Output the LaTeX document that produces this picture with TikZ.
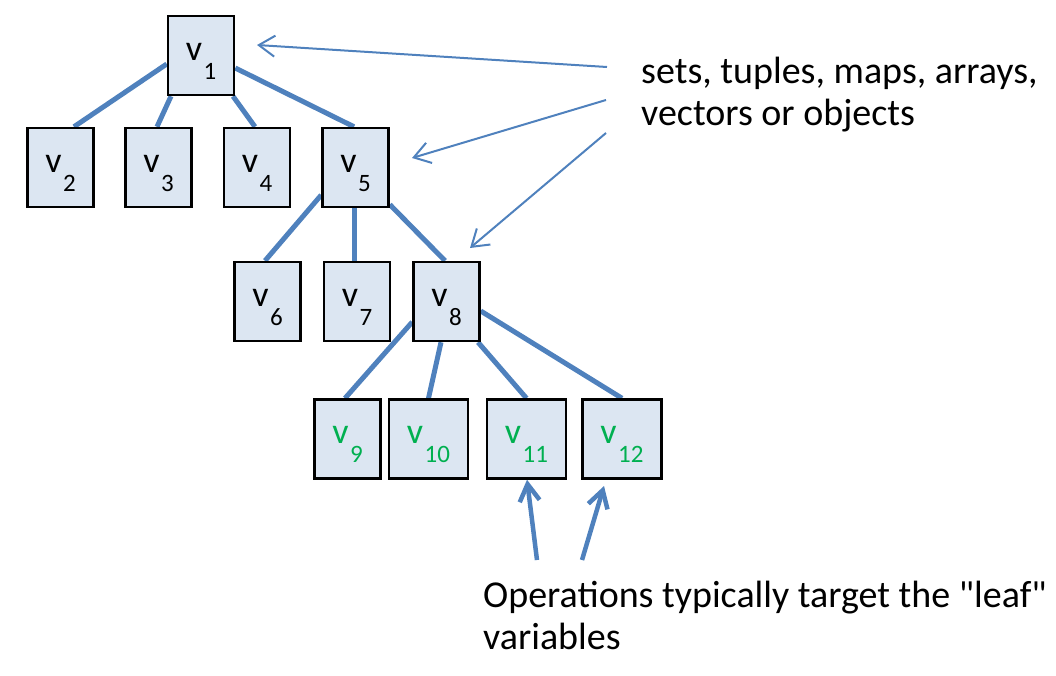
\documentclass[tikz,border=0pt]{standalone}
\usepackage{fontspec}
\setmainfont{Carlito}[Ligatures=TeXOff]
\usetikzlibrary{arrows.meta,backgrounds}
\definecolor{edgeblue}{HTML}{4F81BD}
\definecolor{boxfill}{HTML}{DCE6F2}
\definecolor{leafgreen}{HTML}{00B050}
\newcommand{\vlab}[1]{{\fontsize{36}{36}\selectfont v}\hspace{1.5pt}\raisebox{-19pt}{\fontsize{25}{25}\selectfont #1}}
\begin{document}
\begin{tikzpicture}[x=1pt,y=-1pt,
  varbox/.style={draw=black, line width=2.5pt, fill=boxfill, minimum width=66pt, minimum height=79pt, inner sep=0pt, text height=28pt, text depth=19pt},
  widebox/.style={varbox, minimum width=79pt},
  leafbox/.style={text=leafgreen},
  treeedge/.style={draw=edgeblue, line width=5pt},
  notearrow/.style={draw=edgeblue, line width=2pt, -{Straight Barb[length=16pt,width=21pt]}},
  leafarrow/.style={draw=edgeblue, line width=4.5pt, -{Straight Barb[length=17pt,width=20pt]}},
  note/.style={font=\fontsize{38}{42}\selectfont, align=left, inner sep=0pt, anchor=base west}
]
\useasboundingbox (0,0) rectangle (1056,675);

% boxes
\node[varbox] (v1) at (201,55.5) {\vlab{1}};
\node[varbox] (v2) at (60.5,167.5) {\vlab{2}};
\node[varbox] (v3) at (158.5,167.5) {\vlab{3}};
\node[varbox] (v4) at (257,167.5) {\vlab{4}};
\node[varbox] (v5) at (355.5,167.5) {\vlab{5}};
\node[varbox] (v6) at (267.5,301.5) {\vlab{6}};
\node[varbox] (v7) at (357,301.5) {\vlab{7}};
\node[varbox] (v8) at (446.5,301.5) {\vlab{8}};
\node[varbox, leafbox] (v9) at (347.5,439) {\vlab{9}};
\node[widebox, leafbox] (v10) at (428.5,439) {\vlab{10}};
\node[widebox, leafbox] (v11) at (526.5,439) {\vlab{11}};
\node[widebox, leafbox] (v12) at (622,439) {\vlab{12}};

% tree edges
\begin{scope}[on background layer]
\draw[treeedge] ([yshift=-8.5pt]v1.west) -- ([xshift=13.5pt]v2.north);
\draw[treeedge] ([xshift=-30pt]v1.south) -- ([xshift=-1.5pt]v3.north);
\draw[treeedge] ([xshift=32pt]v1.south) -- ([xshift=-2pt]v4.north);
\draw[treeedge] ([yshift=-12.5pt]v1.east) -- ([xshift=-1.5pt]v5.north);
\draw[treeedge] ([yshift=-27.5pt]v5.west) -- ([xshift=-2.5pt]v6.north);
\draw[treeedge] ([xshift=-1.5pt]v5.south) -- ([xshift=-3pt]v7.north);
\draw[treeedge] ([yshift=-37pt]v5.east) -- ([xshift=-1.5pt]v8.north);
\draw[treeedge] ([yshift=-20.5pt]v8.west) -- ([xshift=-2.5pt]v9.north);
\draw[treeedge] ([xshift=-5.5pt]v8.south) -- (v10.north);
\draw[treeedge] ([xshift=31.5pt]v8.south) -- (v11.north);
\draw[treeedge] ([yshift=-9.5pt]v8.east) -- (v12.north);
\end{scope}

% notes (base anchor = baseline of the last line)
\node[note] (sets) at (641,125) {sets, tuples, maps, arrays,\\vectors or objects};
\node[note] (ops) at (483,649) {Operations typically target the "leaf"\\variables};

% note arrows
\coordinate (n1s) at (607,67);  \coordinate (n1e) at (257,45);
\coordinate (n2s) at (606,100); \coordinate (n2e) at (412,158);
\coordinate (n3s) at (606,133); \coordinate (n3e) at (470,248);
\draw[notearrow] (n1s) -- (n1e);
\draw[notearrow] (n2s) -- (n2e);
\draw[notearrow] (n3s) -- (n3e);

\coordinate (l1s) at (537,560);
\coordinate (l2s) at (582,560); \coordinate (l2e) at (604,486);
\draw[leafarrow] (l1s) -- ([xshift=0.5pt]v11.south);
\draw[leafarrow] (l2s) -- (l2e);
\end{tikzpicture}
\end{document}
